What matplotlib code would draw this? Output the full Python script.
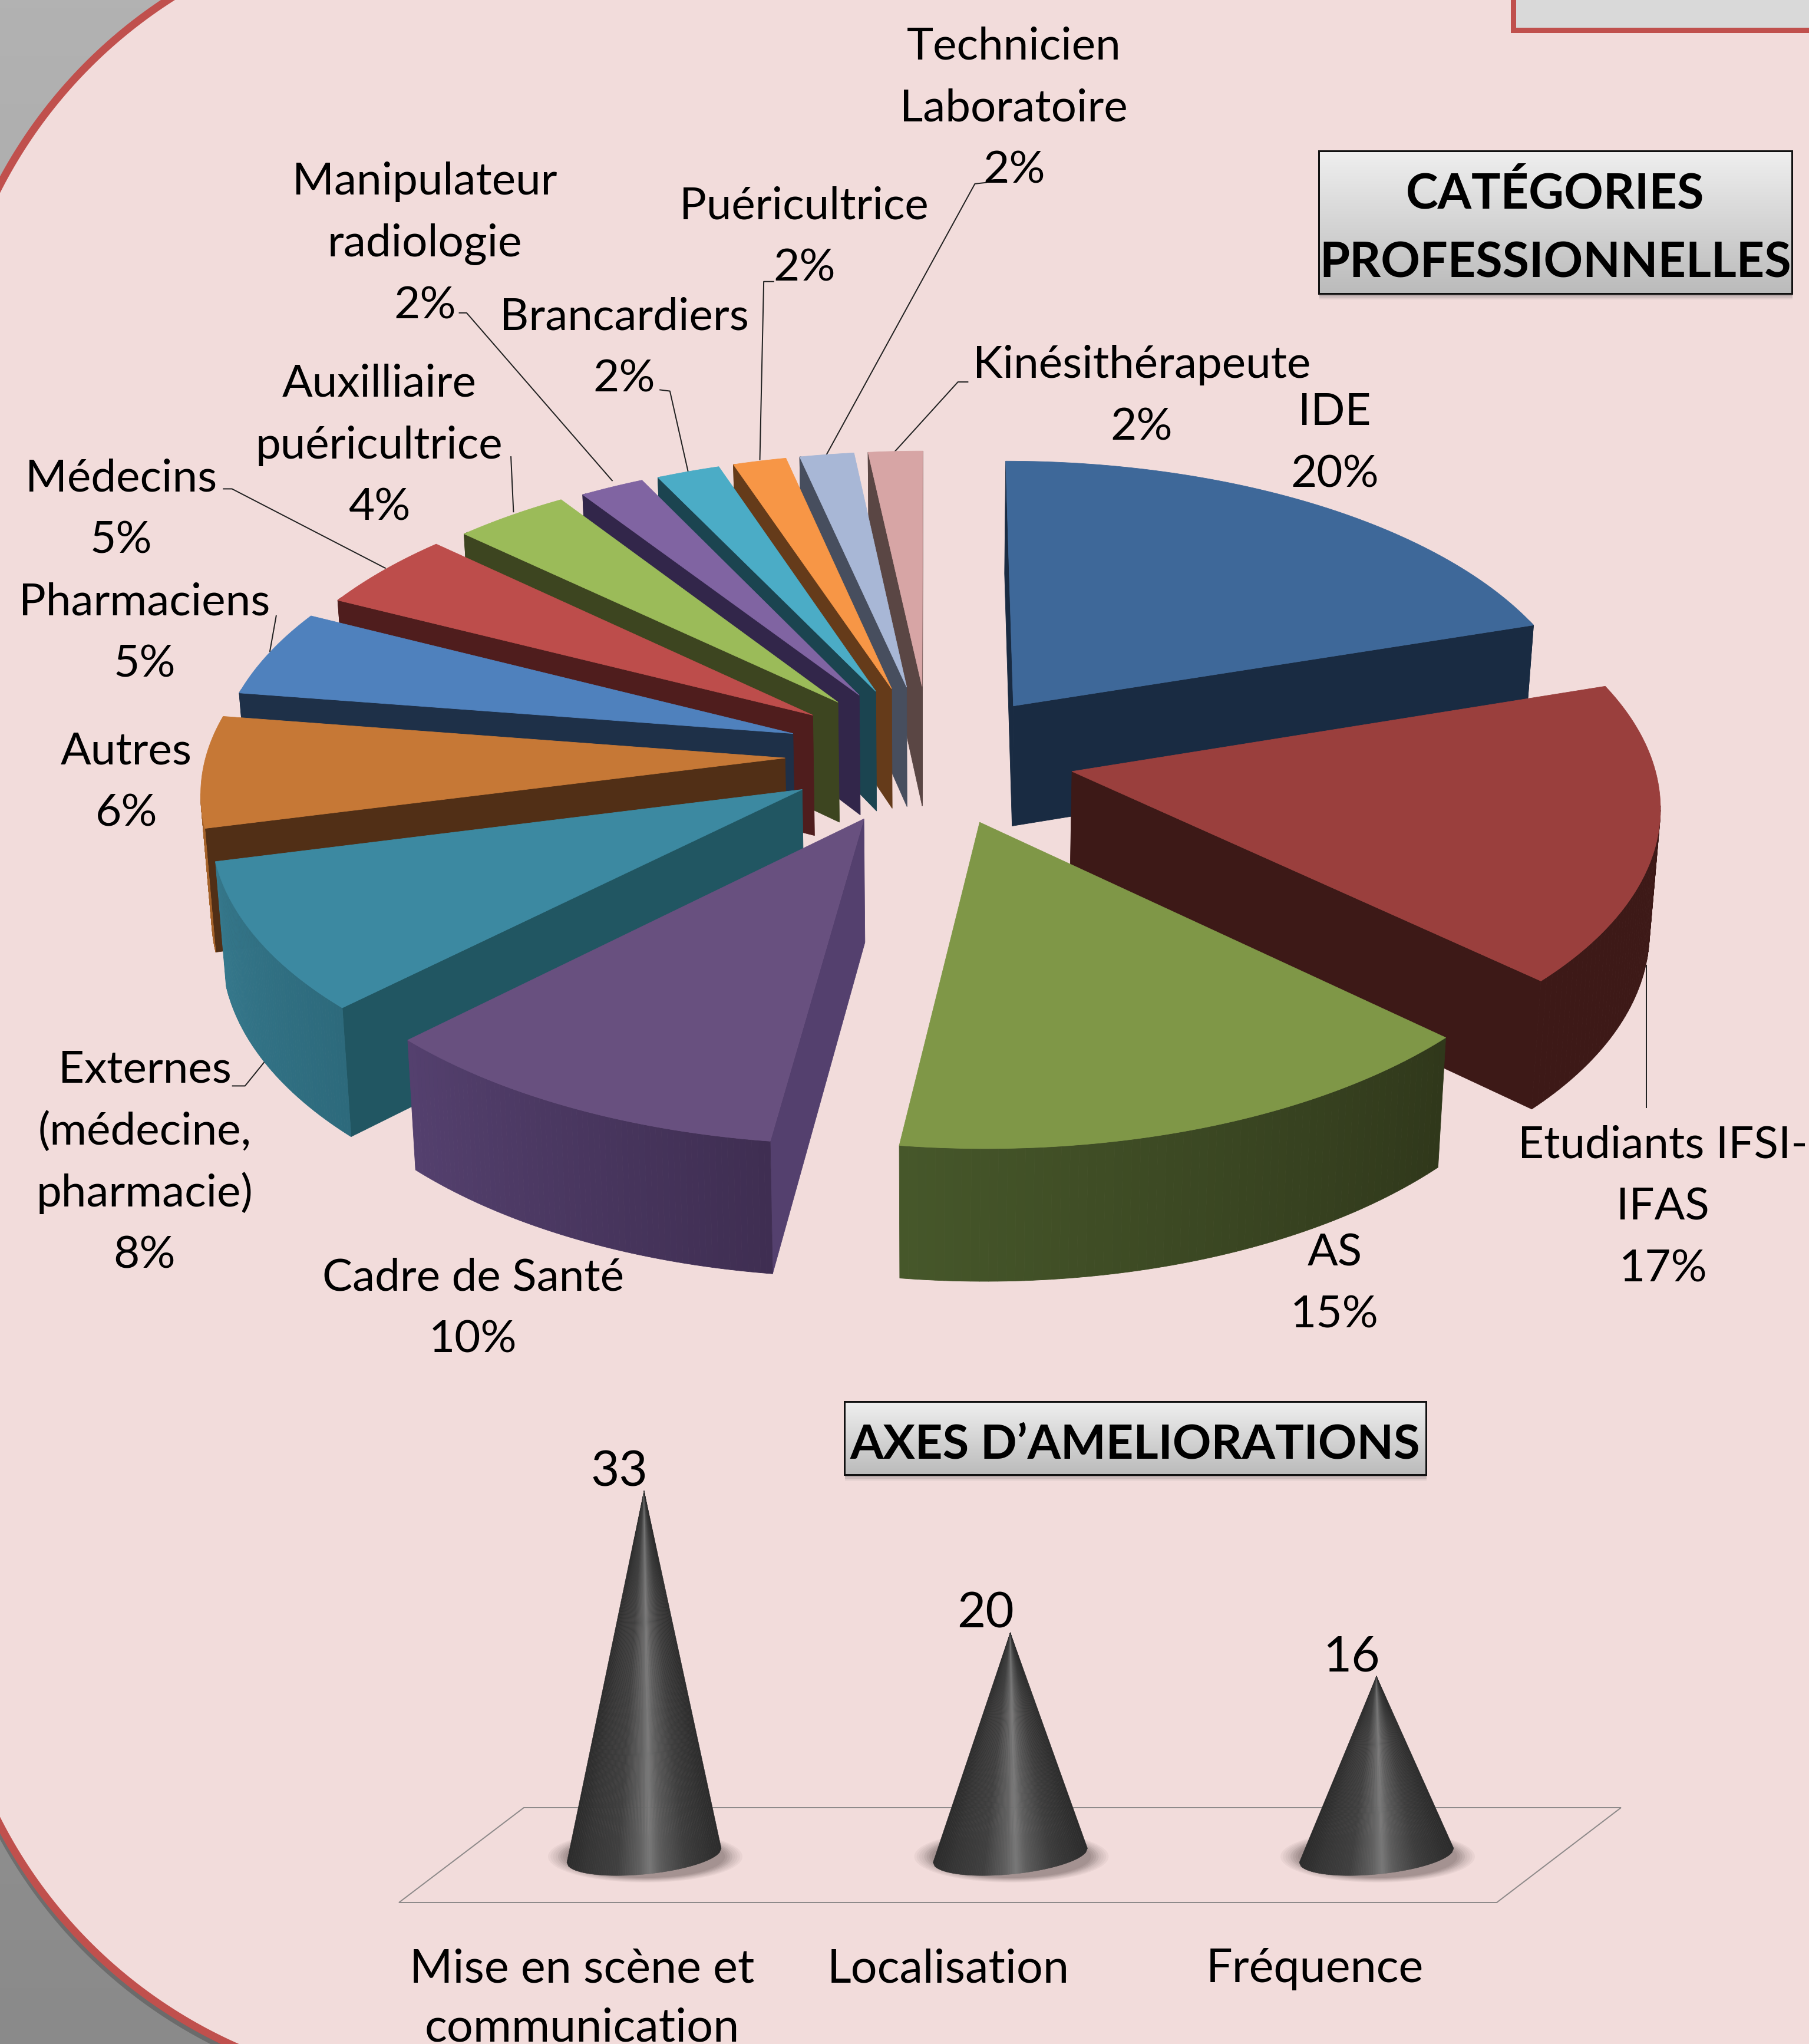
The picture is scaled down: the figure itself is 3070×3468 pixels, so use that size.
import numpy as np
import matplotlib
matplotlib.use("Agg")
import matplotlib.pyplot as plt
from matplotlib.patches import Polygon, Rectangle, Ellipse
from matplotlib.path import Path
from matplotlib.colors import to_rgb

plt.rcParams['font.family'] = ['Lato', 'DejaVu Sans']

# ---------------- data ----------------
categories = ["IDE", "Etudiants IFSI-\nIFAS", "AS", "Cadre de Santé",
              "Externes\n(médecine,\npharmacie)", "Autres", "Pharmaciens", "Médecins",
              "Auxilliaire\npuéricultrice", "Manipulateur\nradiologie", "Brancardiers",
              "Puéricultrice", "Technicien\nLaboratoire", "Kinésithérapeute"]
shares = [20, 17, 15.1, 10.49, 8.49, 6.33, 5.0, 4.55, 3.7, 2.08, 2.05, 1.72, 1.75, 1.75]

axes_categories = ["Mise en scène et\ncommunication", "Localisation", "Fréquence"]
axes_values = [33, 20, 16]

# ---------------- style ----------------
W, H = 3070, 3468
S = W / 1388.0
top_colors = ["#3e6899", "#9a3f3d", "#7f9747", "#68507f", "#3c89a1", "#c67836", "#4f81bd",
              "#bd4d4b", "#9bbb59", "#8064a2", "#4bacc6", "#f79646", "#a8b7d6", "#d7a5a5"]
side_colors = ["#192b42", "#3d1917", "#33391c", "#54406e", "#215662", "#512f16", "#1e3048",
               "#4f1d1d", "#3d4520", "#32264a", "#1b4450", "#653b1a", "#474e5e", "#5a4644"]
rim_start = ["#192b42", "#3d1917", "#30381b", "#3f2e52", "#2d6a7c", "#a5622a", "#1e3048",
             "#4f1d1d", "#3d4520", "#32264a", "#1b4450", "#653b1a", "#474e5e", "#5a4644"]
rim_end = ["#192b42", "#3d1917", "#46572a", "#54406e", "#35788c", "#a5622a", "#1e3048",
           "#4f1d1d", "#3d4520", "#32264a", "#1b4450", "#653b1a", "#474e5e", "#5a4644"]
radius = [.985, .99, .98, .98, .988, .988, .982, .972, .965, .96, .958, .958, .958, .958]
lift = [.03, .05, .055] + [.055] * 11
explode = .247
draw_order = [13, 12, 11, 10, 9, 8, 7, 6, 0, 5, 4, 1, 3, 2]
CX, CY, AX_, BY, KP = 1578, 1307, 1000, 487, .105
DEPTH, KZ, SHRINK = 207, .07, .015

# label block centres (in shrunk reference px)
label_pos = [(1024, 338), (1276, 924), (1024, 983), (363, 1002), (111, 890), (97, 598),
             (111, 484), (93, 389), (291, 340), (326, 185), (479, 265), (617, 180),
             (778, 81), (876, 302)]
leaders = [[(1263, 850), (1263, 740)],
           [(178, 833), (188, 833), (205, 812)],
           [(212, 472), (207, 500)],
           [(171, 375), (178, 375), (296, 436)],
           [(392, 350), (394, 393)],
           [(352, 240), (358, 240), (470, 369)],
           [(506, 299), (514, 300), (528, 362)],
           [(594, 216), (586, 216), (583, 353)],
           [(757, 140), (748, 141), (634, 349)],
           [(743, 293), (735, 293), (686, 347)]]

fig = plt.figure(figsize=(W / 100, H / 100), dpi=100)
ax = fig.add_axes([0, 0, 1, 1])
ax.set_axis_off()


def px(v):
    return v * .72


# ---------------- background ----------------
ax.imshow(np.linspace(0, 1, 256)[:, None], extent=(0, W, H, 0), aspect='auto',
          cmap=matplotlib.colors.LinearSegmentedColormap.from_list('g', ['#b2b2b2', '#8a8a8a']), zorder=0)
L, T, Bm, Rr, R_ = -95, -135, 3545, 3400, 835
a1 = np.linspace(np.pi, 1.5 * np.pi, 120)
a2 = np.linspace(.5 * np.pi, np.pi, 120)
xs = np.r_[L + R_ + R_ * np.cos(a1), Rr, Rr, L + R_ + R_ * np.cos(a2)]
ys = np.r_[T + R_ + R_ * np.sin(a1), T, Bm, Bm - R_ + R_ * np.sin(a2)]
outline = np.c_[xs, ys]
ax.add_patch(Polygon(outline + [0, 7], closed=True, fc='#000000', ec='#000000', alpha=.22, lw=px(16), zorder=1))
ax.add_patch(Polygon(outline, closed=True, fc='#f2dcdb', ec='#c0504d', lw=px(13), zorder=2))
ax.add_patch(Rectangle((2568, -60), 800, 111, fc='#d9d9d9', ec='#c0504d', lw=px(9), zorder=3))


# ---------------- 3-D pie ----------------
def project(X, Y, z=0.0):
    den = 1 + KP * Y
    x = CX + AX_ * X / den * (1 - SHRINK * z)
    y = CY - BY * Y / den + z * DEPTH / (1 + KZ * Y)
    return x, y


fractions = np.array(shares) / np.sum(shares)
edges = np.r_[0, np.cumsum(fractions)] * 2 * np.pi
zb = 10


def quad(p, col, z):
    ax.add_patch(Polygon(p, closed=True, fc=col, ec=col, lw=.6, zorder=z))


for i in draw_order:
    a0, a1_ = edges[i], edges[i + 1]
    mid = (a0 + a1_) / 2
    ex, ey = explode * np.sin(mid), explode * np.cos(mid) + lift[i]
    th = np.linspace(a0, a1_, 70)
    RX = ex + radius[i] * np.sin(th)
    RY = ey + radius[i] * np.cos(th)
    tx, ty = project(RX, RY)
    bx, by = project(RX, RY, 1)
    apx, apy = project(ex, ey)
    abx, aby = project(ex, ey, 1)
    top = np.r_[[[apx, apy]], np.c_[tx, ty]]
    path = Path(np.r_[top, [top[0]]])
    # radial side faces
    for k in (0, -1):
        mx, my = (apx + tx[k]) / 2, (apy + ty[k]) / 2
        if not path.contains_point((mx, my + 6)):
            quad([(apx, apy), (tx[k], ty[k]), (bx[k], by[k]), (abx, aby)], side_colors[i], zb)
    # outer rim
    c0, c1 = np.array(to_rgb(rim_start[i])), np.array(to_rgb(rim_end[i]))
    for k in range(len(th) - 1):
        mx, my = (tx[k] + tx[k + 1]) / 2, (ty[k] + ty[k + 1]) / 2
        if not path.contains_point((mx, my + 6)):
            f = k / (len(th) - 2)
            quad([(tx[k], ty[k]), (tx[k + 1], ty[k + 1]), (bx[k + 1], by[k + 1]), (bx[k], by[k])],
                 tuple(c0 + (c1 - c0) * f), zb)
    ax.add_patch(Polygon(top, closed=True, fc=top_colors[i], ec=top_colors[i], lw=.6, zorder=zb))
    zb += 1

# ---------------- text helpers ----------------
def block(x, yc, lines, size, step, base_k=.34, **kw):
    n = len(lines)
    base = base_k * size * 100 / 72
    for j, s in enumerate(lines):
        y = yc + (j - (n - 1) / 2) * step + base
        ax.text(x, y, s, ha='center', va='baseline', fontsize=size, color='black', zorder=60, **kw)


for name, v, (lx, ly) in zip(categories, shares, label_pos):
    block(lx * S, ly * S, name.split("\n") + [f"{v:.0f}%"], 55, 105)
for pts in leaders:
    p = np.array(pts) * S
    ax.plot(p[:, 0], p[:, 1], color='#222222', lw=px(2), zorder=9, solid_capstyle='butt')


def title_box(x0, y0, x1, y1, lines, size, step):
    for k, al in ((10, .10), (7, .15), (4, .2)):
        ax.add_patch(Rectangle((x0 + 1, y0 + k), x1 - x0, y1 - y0, fc='#555555', ec='none', alpha=al, zorder=40))
    ax.imshow(np.linspace(0, 1, 256)[:, None], extent=(x0, x1, y1, y0), aspect='auto', zorder=41,
              cmap=matplotlib.colors.LinearSegmentedColormap.from_list('b', ['#efefef', '#bbbbbb']))
    ax.add_patch(Rectangle((x0, y0), x1 - x0, y1 - y0, fc='none', ec='#111111', lw=px(3), zorder=42))
    block((x0 + x1) / 2, (y0 + y1) / 2, lines, size, step, base_k=.42, fontweight='bold')


title_box(2238, 256, 3041, 498, ["CATÉGORIES", "PROFESSIONNELLES"], 59.5, 117)
title_box(1433, 2378, 2420, 2502, ["AXES D’AMELIORATIONS"], 58.5, 117)

# ---------------- floor of the cone chart ----------------
ax.add_patch(Polygon([(889, 3067), (2751, 3067), (2540, 3228), (677, 3228)], closed=True,
                     fc='none', ec='#8e8a8a', lw=px(2), zorder=5))
ax.set_xlim(0, W)
ax.set_ylim(H, 0)

# ---------------- cone chart (value axes) ----------------
UX, UY = 621.5, 18.5          # px per category step, px per value unit
X0, Y0 = 1093, 3140           # pixel position of (0, 0)
xlo, xhi, ylo, yhi = -1, 3, -10, 40
cax = fig.add_axes([(X0 + xlo * UX) / W, 1 - (Y0 - ylo * UY) / H,
                    (xhi - xlo) * UX / W, (yhi - ylo) * UY / H])
cax.set_xlim(xlo, xhi)
cax.set_ylim(ylo, yhi)
cax.patch.set_alpha(0)
cax.set_axis_off()

u_stops = [-1, -.75, -.35, -.05, .08, .22, .55, 1]
g_stops = [.17, .21, .25, .38, .47, .36, .24, .17]
hw, bh, shear, yc = 131 / UX, 32 / UY, 12 / UY, -8 / UY
us = np.linspace(-1, 1, 91)

for i, v in enumerate(axes_values):
    for frac, al in zip(np.linspace(1, .82, 8), [.05] * 4 + [.09] * 4):
        cax.add_patch(Ellipse((i + 2 / UX, -10 / UY), 330 * frac / UX, 88 * frac / UY,
                              fc='#4a3a3a', ec='none', alpha=al))
    bx_ = i + hw * us
    by_ = yc - bh * np.sqrt(1 - us ** 2) + shear * us
    for k in range(len(us) - 1):
        g = np.interp((us[k] + us[k + 1]) / 2, u_stops, g_stops)
        col = (g, g, g)
        cax.add_patch(Polygon([(i, v), (bx_[k], by_[k]), (bx_[k + 1], by_[k + 1])], closed=True,
                              fc=col, ec=col, lw=.4))
    cax.text(i - 42 / UX, v + 31 / UY, str(v), ha='center', va='center', fontsize=60, color='black')

# category labels under the floor
for i, name in enumerate(axes_categories):
    lines = name.split("\n")
    x = X0 + i * UX - 105
    base = (1508 * S) + .35 * 57 * 100 / 72
    for j, s in enumerate(lines):
        ax.text(x, base + j * 100, s, ha='center', va='baseline', fontsize=57, color='black', zorder=60)

fig.savefig("out.png", dpi=100)
